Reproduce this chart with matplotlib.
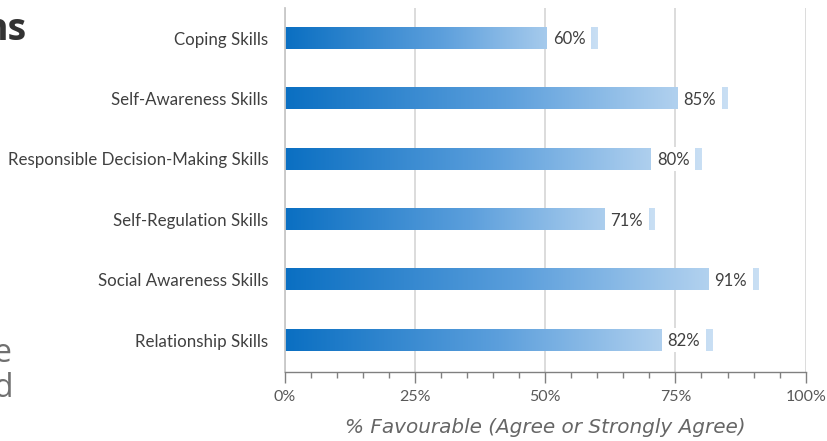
import numpy as np
import matplotlib.pyplot as plt
from matplotlib.colors import LinearSegmentedColormap
from matplotlib.patches import Rectangle
from matplotlib.ticker import MultipleLocator, FuncFormatter

plt.rcParams['font.family'] = ['Lato', 'DejaVu Sans']

skills = ['Coping Skills', 'Self-Awareness Skills', 'Responsible Decision-Making Skills',
          'Self-Regulation Skills', 'Social Awareness Skills', 'Relationship Skills']
favourable = [60, 85, 80, 71, 91, 82]

blues = LinearSegmentedColormap.from_list('bar_blue', ['#0a6fc2', '#5c9fdc', '#c9dff4'])
grad = np.linspace(0, 1, 256).reshape(1, -1)

fig = plt.figure(figsize=(8.28, 4.41), dpi=100)
ax = fig.add_axes([0.344, 0.156, 0.629, 0.826])

bar_h = 0.35
for i, v in enumerate(favourable):
    ax.imshow(grad, cmap=blues, aspect='auto', interpolation='bilinear',
              extent=[0, v, i + bar_h / 2, i - bar_h / 2], zorder=2)
    # white label box sitting over the end of the bar
    ax.add_patch(Rectangle((v - 9.6, i - bar_h / 2 - 0.02), 8.45, bar_h + 0.04,
                           facecolor='white', edgecolor='none', zorder=3))
    ax.text(v - 5.4, i + 0.02, f'{v}%', ha='center', va='center',
            fontsize=12, color='#404040', zorder=4)

ax.set_xlim(0, 100)
ax.set_ylim(5.53, -0.5)
ax.set_yticks(range(len(skills)))
ax.set_yticklabels(skills, fontsize=12.2, color='#404040')
ax.tick_params(axis='y', length=0, pad=12)

ax.xaxis.set_major_locator(MultipleLocator(25))
ax.xaxis.set_minor_locator(MultipleLocator(5))
ax.xaxis.set_major_formatter(FuncFormatter(lambda x, _: f'{x:.0f}%'))
ax.tick_params(axis='x', which='major', length=8, width=1, color='#808080',
               labelsize=11.5, labelcolor='#595959', pad=5)
ax.tick_params(axis='x', which='minor', length=4, width=1, color='#808080')
ax.grid(axis='x', which='major', color='#d9d9d9', linewidth=1.3, zorder=0)
ax.set_axisbelow(True)

for side in ['top', 'right']:
    ax.spines[side].set_visible(False)
ax.spines['left'].set_color('#c8c8c8')
ax.spines['left'].set_linewidth(1.3)
ax.spines['bottom'].set_color('#808080')
ax.spines['bottom'].set_linewidth(1)

ax.set_xlabel('% Favourable (Agree or Strongly Agree)', fontsize=14.4, style='italic',
              family='DejaVu Sans', color='#666666', labelpad=10)

# pieces of the slide text cut off at the left edge
fig.text(26 / 828, 1 - 40 / 441, 'ns', ha='right', va='baseline', fontsize=27,
         fontweight='bold', family='Open Sans', color='#333333')
fig.text(11 / 828, 1 - 362 / 441, 'e', ha='right', va='baseline', fontsize=23,
         family='Open Sans', color='#707070')
fig.text(13 / 828, 1 - 397 / 441, 'd', ha='right', va='baseline', fontsize=23,
         family='Open Sans', color='#707070')

fig.savefig('out.png', dpi=100)
